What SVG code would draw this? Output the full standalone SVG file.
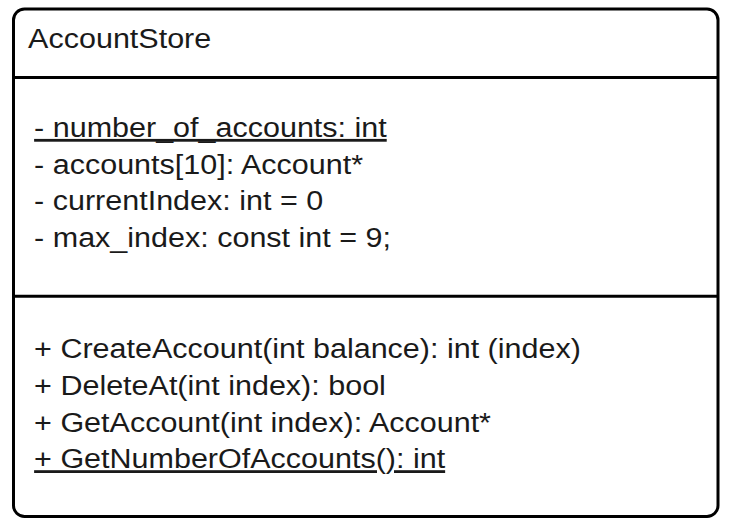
<svg xmlns="http://www.w3.org/2000/svg" width="732" height="532" viewBox="0 0 732 532">
  <style>
    .box { fill: #ffffff; stroke: #000000; stroke-width: 3; }
    .div { stroke: #000000; stroke-width: 3; }
    .t { font-family: "Liberation Sans", Arial, sans-serif; font-size: 28px; fill: #1a1a1a; }
    .u { text-decoration: underline; }
  </style>
  <rect x="0" y="0" width="732" height="532" fill="#ffffff"/>
  <g id="AccountStore">
    <rect class="box" x="13.5" y="9" width="704.5" height="507.5" rx="11" ry="11"/>
    <line class="div" x1="13.5" y1="77.5" x2="718" y2="77.5"/>
    <line class="div" x1="13.5" y1="296.3" x2="718" y2="296.3"/>
    <g transform="scale(1.09 1)">
      <text class="t" x="25.8" y="48.3">AccountStore</text>
      <text class="t u" x="31.3" y="137">- number_of_accounts: int</text>
      <text class="t" x="31.3" y="173.7">- accounts[10]: Account*</text>
      <text class="t" x="31.3" y="210.3">- currentIndex: int = 0</text>
      <text class="t" x="31.3" y="247">- max_index: const int = 9;</text>
      <text class="t" x="31.3" y="358.3">+ CreateAccount(int balance): int (index)</text>
      <text class="t" x="31.3" y="395">+ DeleteAt(int index): bool</text>
      <text class="t" x="31.3" y="431.7">+ GetAccount(int index): Account*</text>
      <text class="t u" x="31.3" y="468.3">+ GetNumberOfAccounts(): int</text>
    </g>
  </g>
  <g id="connectors"/>
</svg>
